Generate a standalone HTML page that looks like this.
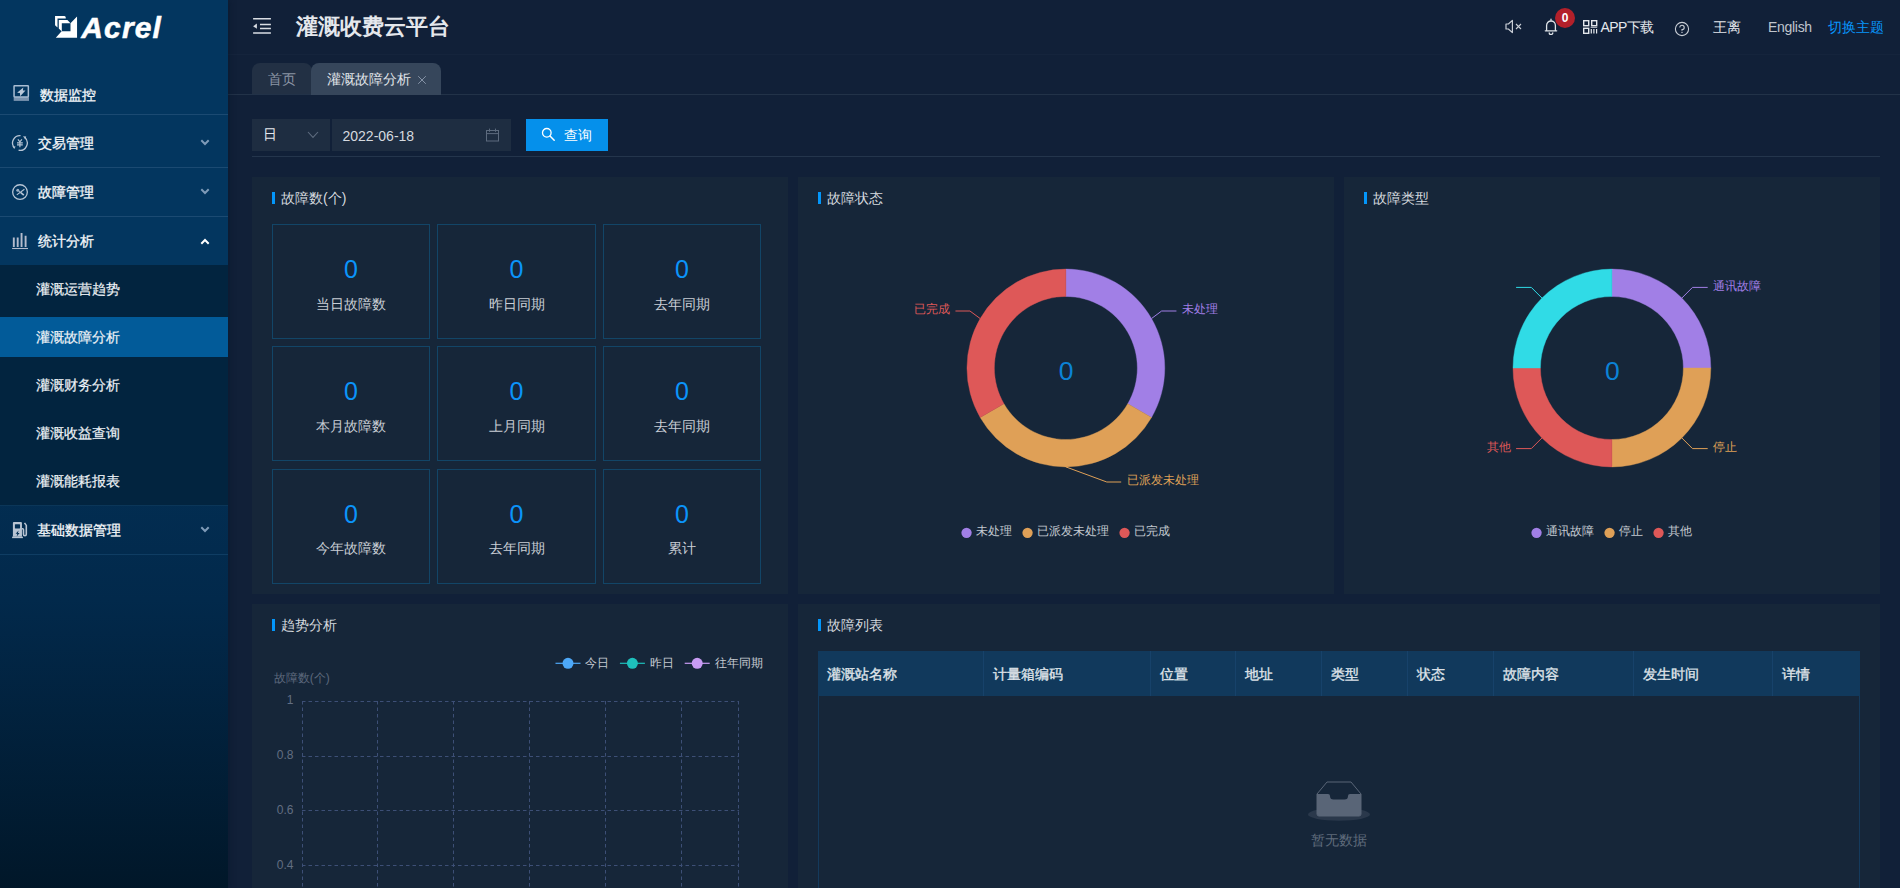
<!DOCTYPE html>
<html lang="zh">
<head>
<meta charset="utf-8">
<title>灌溉收费云平台</title>
<style>
*{box-sizing:border-box;margin:0;padding:0}
html,body{width:1900px;height:888px;overflow:hidden;background:#112038;font-family:"Liberation Sans",sans-serif;font-size:14px;color:#d5d9df}
.abs{position:absolute}
#side{position:absolute;left:0;top:0;width:228px;height:888px;z-index:5;box-shadow:2px 0 6px rgba(0,21,41,.35);background:linear-gradient(180deg,#03365f 0,#03365f 265px,#02294b 600px,#011729 888px)}
#main{position:absolute;left:228px;top:0;width:1672px;height:888px;background:#112038}
.t{position:absolute;white-space:nowrap;line-height:20px;height:20px}
.mi{font-weight:500;color:#f4f7fa;font-size:14px;margin-top:-0.5px;-webkit-text-stroke:0.3px #f4f7fa}
.smi{font-weight:500;color:#eef2f6;font-size:14px;-webkit-text-stroke:0.2px #eef2f6}
.sline{position:absolute;left:0;width:228px;height:1px;background:#1b4a72}
.panel{position:absolute;background:#162639}
.pt{position:absolute;font-size:14px;color:#d5d9df;line-height:20px;white-space:nowrap}
.pbar{position:absolute;width:3px;height:12px;background:#0396fa}
.card{position:absolute;border:1px solid #124567;text-align:center}
.card .n{position:absolute;left:0;right:0;top:29px;font-size:25px;line-height:30px;color:#0b94fa}
.card .l{position:absolute;left:0;right:0;top:69px;font-size:14px;line-height:20px;color:#c9ced5}
.th{position:absolute;top:0;height:45px;line-height:46px;padding-left:9px;font-weight:500;-webkit-text-stroke:0.35px #dfe3e9;color:#dfe3e9;font-size:14px;border-right:1px solid #17426a;white-space:nowrap}
</style>
</head>
<body>
<div id="side">
<!-- logo -->
<svg class="abs" style="left:54px;top:15px" width="24" height="24" viewBox="0 0 24 24">
  <path d="M1.05 1 H10.4 Q11.75 1.1 11.75 2.6 V3.5 H3.5 V12.4 L1.05 10.2 Z" fill="#fff"/>
  <path d="M4.8 5.1 H13.4 L16.5 8.2 H7.8 V16.4 L4.8 13.6 Z" fill="#fff"/>
  <path d="M23.05 1.5 V22.7 H1.8 L7.6 16.3 H16.5 V8.2 Z" fill="#fff"/>
</svg>
<div class="t" style="left:81.3px;top:8.6px;height:38px;line-height:38px;font-size:30px;font-weight:bold;font-style:italic;color:#fff;letter-spacing:1.15px;-webkit-text-stroke:0.5px #fff">Acrel</div>

<!-- 数据监控 -->
<svg class="abs" style="left:13px;top:84px" width="17" height="18" viewBox="0 0 17 18">
  <rect x="0.7" y="13.2" width="15.3" height="3.7" fill="#7a94b0"/>
  <rect x="1.05" y="1.65" width="14.3" height="11.3" rx="0.6" fill="#03365f" stroke="#a9bdd3" stroke-width="1.5"/>
  <path d="M10.3 3.6 L4.1 8.7 L6.9 9 L7.2 12.2 L12.5 6.5 L9.9 6.4 Z" fill="#b9c8d9"/>
</svg>
<div class="t mi" style="left:39.5px;top:85px">数据监控</div>
<div class="sline" style="top:114px"></div>

<!-- 交易管理 -->
<svg class="abs" style="left:11px;top:134px" width="18" height="18" viewBox="0 0 18 18">
  <path d="M9.54 1.68 A7.35 7.35 0 0 0 2.88 13.22" fill="none" stroke="#b7c5d5" stroke-width="1.3"/>
  <path d="M13.62 3.37 A7.35 7.35 0 0 1 7.62 16.24" fill="none" stroke="#b7c5d5" stroke-width="1.3"/>
  <path d="M1.3 12.2 L4.6 12.4 L3.3 15 Z" fill="#b7c5d5"/>
  <path d="M12 2.2 L15.2 2.6 L14.4 5.4 Z" fill="#b7c5d5"/>
  <path d="M6.9 5.3 L8.9 7.9 L10.9 5.3 M8.9 7.9 V13.3 M6 8.8 H11.8 M6 10.8 H11.8" fill="none" stroke="#b7c5d5" stroke-width="1.15"/>
</svg>
<div class="t mi" style="left:37.5px;top:133px">交易管理</div>
<svg class="abs" style="left:200px;top:139px" width="10" height="7" viewBox="0 0 10 7"><path d="M1.3 1.3 L5 5 L8.7 1.3" fill="none" stroke="#7f9bb8" stroke-width="2"/></svg>
<div class="sline" style="top:167px"></div>

<!-- 故障管理 -->
<svg class="abs" style="left:11px;top:183px" width="18" height="18" viewBox="0 0 18 18">
  <circle cx="9" cy="9.1" r="7.35" fill="none" stroke="#b7c5d5" stroke-width="1.3"/>
  <path d="M5.8 11.9 L13.4 6.2" fill="none" stroke="#b7c5d5" stroke-width="1.1"/>
  <path d="M7.6 8 L9.6 9.6" fill="none" stroke="#b7c5d5" stroke-width="1"/>
  <path d="M9.8 9.6 L12.8 12.1" fill="none" stroke="#b7c5d5" stroke-width="1.7"/>
  <circle cx="6.8" cy="7.3" r="1.5" fill="#9db0c6"/>
</svg>
<div class="t mi" style="left:37.5px;top:182px">故障管理</div>
<svg class="abs" style="left:200px;top:188px" width="10" height="7" viewBox="0 0 10 7"><path d="M1.3 1.3 L5 5 L8.7 1.3" fill="none" stroke="#7f9bb8" stroke-width="2"/></svg>
<div class="sline" style="top:216px"></div>

<!-- 统计分析 -->
<svg class="abs" style="left:11px;top:232px" width="18" height="18" viewBox="0 0 18 18">
  <path d="M2.8 5.5 V14.9 M6.7 5.5 V14.9 M10.55 1 V14.9 M14.6 3.8 V14.9" fill="none" stroke="#b4bccd" stroke-width="1.9"/>
  <path d="M1.1 16.5 H17" fill="none" stroke="#b4bccd" stroke-width="1.1"/>
</svg>
<div class="t mi" style="left:37.5px;top:231px">统计分析</div>
<svg class="abs" style="left:200px;top:238px" width="10" height="7" viewBox="0 0 10 7"><path d="M1.3 5.7 L5 2 L8.7 5.7" fill="none" stroke="#fff" stroke-width="2"/></svg>

<!-- submenu -->
<div class="abs" style="left:0;top:265px;width:228px;height:240px;background:#02243f"></div>
<div class="abs" style="left:0;top:317px;width:228px;height:40px;background:#025b99"></div>
<div class="t smi" style="left:36px;top:279px">灌溉运营趋势</div>
<div class="t smi" style="left:36px;top:327px">灌溉故障分析</div>
<div class="t smi" style="left:36px;top:375px">灌溉财务分析</div>
<div class="t smi" style="left:36px;top:423px">灌溉收益查询</div>
<div class="t smi" style="left:36px;top:471px">灌溉能耗报表</div>
<div class="sline" style="top:505px;background:#0b3658"></div>

<!-- 基础数据管理 -->
<svg class="abs" style="left:11px;top:521px" width="17" height="18" viewBox="0 0 17 18">
  <path d="M1.9 2 Q1.9 1 2.9 1 H9.95 Q10.95 1 10.95 2 V15.8 H1.9 Z" fill="#b9c4d2"/>
  <rect x="3.9" y="3.35" width="5.15" height="4.05" rx="0.4" fill="#032f54"/>
  <path d="M7.6 9.4 L4.6 12.7 H6.4 L5.6 15.4 L8.6 12 H6.9 Z" fill="#032f54"/>
  <rect x="1.1" y="15.65" width="10.8" height="1.5" fill="#b9c4d2"/>
  <path d="M10.95 7.8 H11.6 Q12.5 7.8 12.5 8.8 V13.3 A1.4 1.4 0 0 0 15.3 13.3 V4.4 L13.5 1.9" fill="none" stroke="#b9c4d2" stroke-width="1.6"/>
</svg>
<div class="t mi" style="left:37px;top:520px">基础数据管理</div>
<svg class="abs" style="left:200px;top:526px" width="10" height="7" viewBox="0 0 10 7"><path d="M1.3 1.3 L5 5 L8.7 1.3" fill="none" stroke="#7f9bb8" stroke-width="2"/></svg>
<div class="sline" style="top:554px;background:#0f3d63"></div>

</div>
<div id="main">
<!-- header (coords relative to #main, x offset 228) -->
<div class="abs" style="left:0;top:54px;width:1672px;height:1px;background:#15243c"></div>
<svg class="abs" style="left:24px;top:17px" width="20" height="18" viewBox="0 0 20 18">
  <path d="M1.1 1.7 H18.9 M8 7.4 H18.9 M8 11.4 H18.9 M1.1 15.9 H18.9" stroke="#d9dde3" stroke-width="1.5" fill="none"/>
  <path d="M1.1 9.2 L4.9 6.6 V11.8 Z" fill="#d9dde3"/>
</svg>
<div class="t" style="left:68px;top:11px;height:32px;line-height:32px;font-size:22px;font-weight:bold;color:#e4e7ec">灌溉收费云平台</div>

<!-- right header -->
<svg class="abs" style="left:1277px;top:19px" width="18" height="15" viewBox="0 0 18 15">
  <path d="M1 5 H3.4 L7.4 1.4 V13.6 L3.4 10 H1 Z" fill="none" stroke="#c9ced6" stroke-width="1.2" stroke-linejoin="round"/>
  <path d="M11 5 L16 10 M16 5 L11 10" stroke="#c9ced6" stroke-width="1.1" fill="none"/>
</svg>
<svg class="abs" style="left:1316px;top:18px" width="14" height="17" viewBox="0 0 14 17">
  <path d="M7 1.2 V2.4 M2.6 12.6 V7.4 A4.4 4.4 0 0 1 11.4 7.4 V12.6 M1.3 12.8 H12.7 M5.2 14.8 A1.8 1.8 0 0 0 8.8 14.8" fill="none" stroke="#dfe3e8" stroke-width="1.3" stroke-linecap="round"/>
</svg>
<div class="abs" style="left:1327px;top:8px;width:20px;height:20px;border-radius:10px;background:#b3202a;color:#fff;font-size:12px;font-weight:bold;text-align:center;line-height:20px">0</div>
<svg class="abs" style="left:1355px;top:20px" width="15" height="14" viewBox="0 0 15 14">
  <rect x="0.7" y="0.7" width="5" height="5" fill="none" stroke="#e4e7ec" stroke-width="1.4"/>
  <rect x="8.7" y="0.7" width="5" height="5" fill="none" stroke="#e4e7ec" stroke-width="1.4"/>
  <rect x="0.7" y="8.3" width="5" height="5" fill="none" stroke="#e4e7ec" stroke-width="1.4"/>
  <path d="M7.6 7.3 H14.2" stroke="#c5cad2" stroke-width="1"/><path d="M8.3 9 V13.6 M10.9 9 V13.6 M13.6 9 V13.6" stroke="#e4e7ec" stroke-width="1.2"/>
</svg>
<div class="t" style="left:1372.5px;top:17px;color:#e4e7ec"><span style="letter-spacing:-0.55px">APP</span><span style="letter-spacing:-0.6px">下载</span></div>
<svg class="abs" style="left:1446px;top:21px" width="16" height="16" viewBox="0 0 16 16">
  <circle cx="8" cy="8" r="6.6" fill="none" stroke="#c9ced6" stroke-width="1.1"/>
  <path d="M5.8 6.4 A2.2 2.2 0 1 1 8 8.6 V9.8" fill="none" stroke="#c9ced6" stroke-width="1.1"/>
  <rect x="7.4" y="10.8" width="1.2" height="1.2" fill="#c9ced6"/>
</svg>
<div class="t" style="left:1485px;top:17px;color:#e4e7ec">王离</div>
<div class="t" style="left:1540px;top:17px;color:#c0c5cd;letter-spacing:-0.3px">English</div>
<div class="t" style="left:1600px;top:17px;color:#0895fb">切换主题</div>

<!-- tabs -->
<div class="abs" style="left:0;top:94px;width:1672px;height:1px;background:#223248"></div>
<div class="abs" style="left:24px;top:63px;width:60px;height:31px;border-radius:8px 8px 0 0;background:#223044"></div>
<div class="abs" style="left:83px;top:63px;width:130px;height:32px;border-radius:8px 8px 0 0;background:#36465b"></div>
<div class="t" style="left:39.6px;top:69px;color:#8b95a4">首页</div>
<div class="t" style="left:99px;top:69px;color:#e1e5ea">灌溉故障分析</div>
<svg class="abs" style="left:189px;top:75px" width="10" height="10" viewBox="0 0 10 10"><path d="M1.2 1.2 L8.8 8.8 M8.8 1.2 L1.2 8.8" stroke="#8492a6" stroke-width="1" fill="none"/></svg>

<!-- filter -->
<div class="abs" style="left:24px;top:119px;width:78px;height:32px;background:#1e2d41"></div>
<div class="t" style="left:35px;top:124px;color:#e4e7ec">日</div>
<svg class="abs" style="left:79px;top:131px" width="12" height="8" viewBox="0 0 12 8"><path d="M1 1 L6 6.4 L11 1" fill="none" stroke="#5d6b7e" stroke-width="1.1"/></svg>
<div class="abs" style="left:104px;top:119px;width:179px;height:32px;background:#1e2d41"></div>
<div class="t" style="left:114.5px;top:126px;color:#d5d9df">2022-06-18</div>
<svg class="abs" style="left:257px;top:128px" width="15" height="14" viewBox="0 0 15 14">
  <rect x="1.5" y="2.5" width="12" height="10.5" fill="none" stroke="#5d6b7e" stroke-width="1"/>
  <path d="M1.5 5.6 H13.5 M4.5 0.6 V3.8 M10.5 0.6 V3.8" stroke="#5d6b7e" stroke-width="1" fill="none"/>
</svg>
<div class="abs" style="left:298px;top:119px;width:82px;height:32px;background:#0590eb"></div>
<svg class="abs" style="left:313px;top:127px" width="15" height="15" viewBox="0 0 15 15">
  <circle cx="5.8" cy="5.8" r="4.3" fill="none" stroke="#fff" stroke-width="1.3"/>
  <path d="M9 9 L13.2 13.2" stroke="#fff" stroke-width="1.5" stroke-linecap="round"/>
</svg>
<div class="t" style="left:336px;top:125px;color:#fff">查询</div>
<div class="abs" style="left:24px;top:156px;width:1628px;height:1px;background:#24354c"></div>

<!--P1S-->
<div class="panel" style="left:24px;top:177px;width:536px;height:417px"></div>
<div class="pbar" style="left:44px;top:192px"></div><div class="pt" style="left:53px;top:188px">故障数(个)</div>
<div class="card" style="left:44px;top:224px;width:158px;height:115px"><div class="n">0</div><div class="l">当日故障数</div></div>
<div class="card" style="left:209px;top:224px;width:159px;height:115px"><div class="n">0</div><div class="l">昨日同期</div></div>
<div class="card" style="left:375px;top:224px;width:158px;height:115px"><div class="n">0</div><div class="l">去年同期</div></div>
<div class="card" style="left:44px;top:346px;width:158px;height:115px"><div class="n">0</div><div class="l">本月故障数</div></div>
<div class="card" style="left:209px;top:346px;width:159px;height:115px"><div class="n">0</div><div class="l">上月同期</div></div>
<div class="card" style="left:375px;top:346px;width:158px;height:115px"><div class="n">0</div><div class="l">去年同期</div></div>
<div class="card" style="left:44px;top:469px;width:158px;height:115px"><div class="n">0</div><div class="l" style="top:68px">今年故障数</div></div>
<div class="card" style="left:209px;top:469px;width:159px;height:115px"><div class="n">0</div><div class="l" style="top:68px">去年同期</div></div>
<div class="card" style="left:375px;top:469px;width:158px;height:115px"><div class="n">0</div><div class="l" style="top:68px">累计</div></div>
<!--P2S-->
<div class="panel" style="left:570px;top:177px;width:536px;height:417px"></div>
<div class="pbar" style="left:590px;top:192px"></div><div class="pt" style="left:599px;top:188px">故障状态</div>
<svg class="abs" style="left:570px;top:177px" width="536" height="416" viewBox="0 0 536 416" font-family="Liberation Sans, sans-serif" font-size="12">
<path d="M267.85 92.10 A98.9 98.9 0 0 1 353.50 240.45 L329.77 226.75 A71.5 71.5 0 0 0 267.85 119.50 Z" fill="#a17fe6" stroke="#a17fe6" stroke-width="0.4"/>
<path d="M353.50 240.45 A98.9 98.9 0 0 1 182.20 240.45 L205.93 226.75 A71.5 71.5 0 0 0 329.77 226.75 Z" fill="#dfa057" stroke="#dfa057" stroke-width="0.4"/>
<path d="M182.20 240.45 A98.9 98.9 0 0 1 267.85 92.10 L267.85 119.50 A71.5 71.5 0 0 0 205.93 226.75 Z" fill="#de5858" stroke="#de5858" stroke-width="0.4"/>
<path d="M353.50 141.55 L363.65 134.00 H378.45" fill="none" stroke="#a17fe6" stroke-width="1"/>
<path d="M182.20 141.55 L171.95 134.00 H157.45" fill="none" stroke="#de5858" stroke-width="1"/>
<path d="M267.85 289.90 L308.80 305.00 H323.20" fill="none" stroke="#dfa057" stroke-width="1"/>
<text x="383.90" y="136.10" fill="#a17fe6">未处理</text>
<text x="328.60" y="307.10" fill="#dfa057">已派发未处理</text>
<text x="152.40" y="136.10" fill="#de5858" text-anchor="end">已完成</text>
<text x="268.20" y="203.10" font-size="26.5" fill="#0b82d6" text-anchor="middle">0</text>
<circle cx="168.55" cy="355.80" r="5.15" fill="#a17fe6"/><text x="178.40" y="357.70" fill="#c3c9d0">未处理</text>
<circle cx="229.55" cy="355.80" r="5.15" fill="#dfa057"/><text x="239.40" y="357.70" fill="#c3c9d0">已派发未处理</text>
<circle cx="326.55" cy="355.80" r="5.15" fill="#de5858"/><text x="336.40" y="357.70" fill="#c3c9d0">已完成</text>
</svg>
<!--P3S-->
<div class="panel" style="left:1116px;top:177px;width:536px;height:417px"></div>
<div class="pbar" style="left:1136px;top:192px"></div><div class="pt" style="left:1145px;top:188px">故障类型</div>
<svg class="abs" style="left:1116px;top:177px" width="536" height="416" viewBox="0 0 536 416" font-family="Liberation Sans, sans-serif" font-size="12">
<path d="M267.90 92.10 A98.9 98.9 0 0 1 366.80 191.00 L339.40 191.00 A71.5 71.5 0 0 0 267.90 119.50 Z" fill="#a17fe6" stroke="#a17fe6" stroke-width="0.4"/>
<path d="M366.80 191.00 A98.9 98.9 0 0 1 267.90 289.90 L267.90 262.50 A71.5 71.5 0 0 0 339.40 191.00 Z" fill="#dfa057" stroke="#dfa057" stroke-width="0.4"/>
<path d="M267.90 289.90 A98.9 98.9 0 0 1 169.00 191.00 L196.40 191.00 A71.5 71.5 0 0 0 267.90 262.50 Z" fill="#de5858" stroke="#de5858" stroke-width="0.4"/>
<path d="M169.00 191.00 A98.9 98.9 0 0 1 267.90 92.10 L267.90 119.50 A71.5 71.5 0 0 0 196.40 191.00 Z" fill="#30dbe6" stroke="#30dbe6" stroke-width="0.4"/>
<path d="M337.83 121.07 L348.50 110.40 H363.70" fill="none" stroke="#a17fe6" stroke-width="1"/>
<path d="M337.83 260.93 L348.50 271.60 H363.70" fill="none" stroke="#dfa057" stroke-width="1"/>
<path d="M197.97 260.93 L187.30 271.60 H172.10" fill="none" stroke="#de5858" stroke-width="1"/>
<path d="M197.97 121.07 L187.30 110.40 H172.10" fill="none" stroke="#30dbe6" stroke-width="1"/>
<text x="368.90" y="113.40" fill="#a17fe6">通讯故障</text>
<text x="368.90" y="274.20" fill="#dfa057">停止</text>
<text x="167.40" y="274.20" fill="#de5858" text-anchor="end">其他</text>
<text x="268.25" y="203.10" font-size="26.5" fill="#0b82d6" text-anchor="middle">0</text>
<circle cx="192.55" cy="355.80" r="5.15" fill="#a17fe6"/><text x="202.40" y="357.70" fill="#c3c9d0">通讯故障</text>
<circle cx="265.55" cy="355.80" r="5.15" fill="#dfa057"/><text x="275.40" y="357.70" fill="#c3c9d0">停止</text>
<circle cx="314.55" cy="355.80" r="5.15" fill="#de5858"/><text x="324.40" y="357.70" fill="#c3c9d0">其他</text>
</svg>
<!--P4S-->
<div class="panel" style="left:24px;top:604px;width:536px;height:284px"></div>
<div class="pbar" style="left:44px;top:619px"></div><div class="pt" style="left:53px;top:615px">趋势分析</div>
<svg class="abs" style="left:24px;top:604px" width="536" height="284" viewBox="0 0 536 284" font-family="Liberation Sans, sans-serif" font-size="12">
<path d="M50 97.5 H487" stroke="#3d4f76" stroke-width="1" stroke-dasharray="3.5 3" fill="none"/>
<path d="M50 152.5 H487" stroke="#3d4f76" stroke-width="1" stroke-dasharray="3.5 3" fill="none"/>
<path d="M50 206.5 H487" stroke="#3d4f76" stroke-width="1" stroke-dasharray="3.5 3" fill="none"/>
<path d="M50 261.5 H487" stroke="#3d4f76" stroke-width="1" stroke-dasharray="3.5 3" fill="none"/>
<path d="M50.5 97 V284" stroke="#3d4f76" stroke-width="1" stroke-dasharray="3.5 3" fill="none"/>
<path d="M125.5 97 V284" stroke="#3d4f76" stroke-width="1" stroke-dasharray="3.5 3" fill="none"/>
<path d="M201.5 97 V284" stroke="#3d4f76" stroke-width="1" stroke-dasharray="3.5 3" fill="none"/>
<path d="M277.5 97 V284" stroke="#3d4f76" stroke-width="1" stroke-dasharray="3.5 3" fill="none"/>
<path d="M353.5 97 V284" stroke="#3d4f76" stroke-width="1" stroke-dasharray="3.5 3" fill="none"/>
<path d="M429.5 97 V284" stroke="#3d4f76" stroke-width="1" stroke-dasharray="3.5 3" fill="none"/>
<path d="M486.5 97 V284" stroke="#3d4f76" stroke-width="1" stroke-dasharray="3.5 3" fill="none"/>
<text x="41.5" y="99.8" fill="#626e82" text-anchor="end">1</text>
<text x="41.5" y="154.8" fill="#626e82" text-anchor="end">0.8</text>
<text x="41.5" y="209.8" fill="#626e82" text-anchor="end">0.6</text>
<text x="41.5" y="264.8" fill="#626e82" text-anchor="end">0.4</text>
<text x="21.7" y="78.4" fill="#5b667b">故障数(个)</text>
<path d="M303.5 59.3 H328.5" stroke="#4da8f8" stroke-width="1.2"/><circle cx="316" cy="59.3" r="5.5" fill="#4da8f8"/><text x="333.3" y="62.5" fill="#c5cad1">今日</text>
<path d="M367.9 59.3 H392.9" stroke="#1ec0bc" stroke-width="1.2"/><circle cx="380.4" cy="59.3" r="5.5" fill="#1ec0bc"/><text x="397.7" y="62.5" fill="#c5cad1">昨日</text>
<path d="M432.7 59.3 H457.7" stroke="#c89bf3" stroke-width="1.2"/><circle cx="445.2" cy="59.3" r="5.5" fill="#c89bf3"/><text x="462.5" y="62.5" fill="#c5cad1">往年同期</text>
</svg>
<!--P5S-->
<div class="panel" style="left:570px;top:604px;width:1082px;height:284px"></div>
<div class="pbar" style="left:590px;top:619px"></div><div class="pt" style="left:599px;top:615px">故障列表</div>
<div class="abs" style="left:590px;top:651px;width:1042px;height:237px;border:1px solid #143a5c;border-bottom:none"></div>
<div class="abs" style="left:590px;top:651px;width:1042px;height:45px;background:#11395c">
<div class="th" style="left:0.0px;width:166.0px;">灌溉站名称</div>
<div class="th" style="left:166.0px;width:166.5px;">计量箱编码</div>
<div class="th" style="left:332.5px;width:85.8px;">位置</div>
<div class="th" style="left:418.3px;width:85.9px;">地址</div>
<div class="th" style="left:504.2px;width:85.8px;">类型</div>
<div class="th" style="left:590.0px;width:85.5px;">状态</div>
<div class="th" style="left:675.5px;width:140.1px;">故障内容</div>
<div class="th" style="left:815.6px;width:139.0px;">发生时间</div>
<div class="th" style="left:954.6px;width:87.4px;border-right:none;">详情</div>
</div>
<svg class="abs" style="left:1080px;top:780px" width="62" height="41" viewBox="0 0 62 41">
  <ellipse cx="31" cy="34.4" rx="31" ry="6.4" fill="#2a384b"/>
  <path d="M9 14 L19 2 H43 L53 14 V34 A2 2 0 0 1 51 36 H11 A2 2 0 0 1 9 34 Z" fill="#162639" stroke="#596577" stroke-width="1"/>
  <path d="M9 14 H20 A2 2 0 0 1 22 16 A3.5 3.5 0 0 0 25.5 19.5 H36.5 A3.5 3.5 0 0 0 40 16 A2 2 0 0 1 42 14 H53 V34 A2 2 0 0 1 51 36 H11 A2 2 0 0 1 9 34 Z" fill="#596577"/>
</svg>
<div class="t" style="left:1083px;top:830px;color:#5f6b7b">暂无数据</div>

<!--END-->
</div>
</body>
</html>
